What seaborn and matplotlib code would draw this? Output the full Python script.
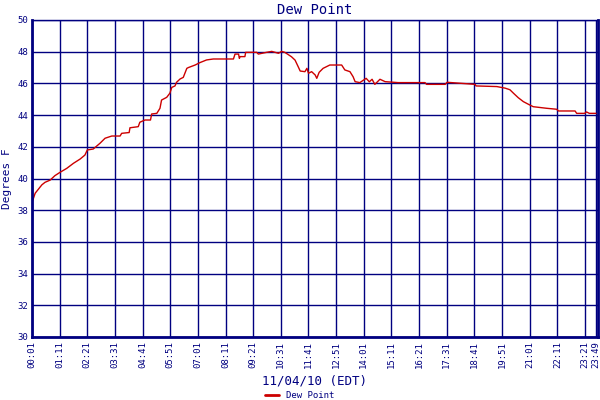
"""
Dew point over one day (11/04/10), recreated with seaborn.
"""

import matplotlib
matplotlib.use('Agg')
import matplotlib.pyplot as plt
from matplotlib.lines import Line2D
import seaborn as sns
import pandas as pd

# minutes after midnight and dew point readings (deg F)
minutes = [1, 4, 9, 26, 34, 47, 59, 72, 89, 106, 123, 135, 141, 156, 173, 186,
           203, 224, 228, 247, 249, 270, 274, 287, 301, 304, 317, 325, 329, 342,
           350, 355, 363, 367, 376, 384, 393, 397, 414, 426, 443, 460, 511, 515,
           524, 526, 528, 540, 542, 570, 574, 595, 608, 625, 633, 641, 649, 658,
           667, 675, 680, 692, 697, 701, 709, 718, 722, 728, 738, 755, 785, 793,
           806, 814, 819, 831, 847, 855, 862, 869, 882, 895, 928, 996, 1000,
           1047, 1052, 1123, 1125, 1178, 1199, 1211, 1220, 1232, 1245, 1258,
           1270, 1304, 1329, 1334, 1376, 1380, 1400, 1405, 1412, 1429]
dew_point = [38.5, 38.7, 39.07, 39.6, 39.76, 39.9, 40.18, 40.39, 40.64, 40.96,
             41.23, 41.48, 41.8, 41.86, 42.22, 42.54, 42.68, 42.68, 42.85, 42.9,
             43.2, 43.27, 43.55, 43.69, 43.69, 44.07, 44.11, 44.43, 44.95,
             45.12, 45.38, 45.75, 45.84, 46.07, 46.28, 46.38, 46.95, 47.0,
             47.16, 47.31, 47.48, 47.54, 47.54, 47.85, 47.85, 47.58, 47.69,
             47.69, 47.96, 47.96, 47.85, 47.96, 48.02, 47.9, 48.02, 47.96,
             47.83, 47.68, 47.47, 47.05, 46.78, 46.74, 46.95, 46.64, 46.74,
             46.53, 46.32, 46.7, 46.95, 47.16, 47.16, 46.85, 46.74, 46.42,
             46.11, 46.05, 46.32, 46.1, 46.26, 45.94, 46.26, 46.11, 46.05,
             46.05, 45.94, 45.94, 46.07, 45.94, 45.84, 45.8, 45.7, 45.6, 45.38,
             45.1, 44.85, 44.68, 44.53, 44.43, 44.37, 44.26, 44.26, 44.11,
             44.11, 44.2, 44.11, 44.11]

tick_minutes = [1, 71, 141, 211, 281, 351, 421, 491, 561, 631, 701, 771, 841,
                911, 981, 1051, 1121, 1191, 1261, 1331, 1401, 1429]
tick_labels = ['00:01', '01:11', '02:21', '03:31', '04:41', '05:51', '07:01',
               '08:11', '09:21', '10:31', '11:41', '12:51', '14:01', '15:11',
               '16:21', '17:31', '18:41', '19:51', '21:01', '22:11', '23:21',
               '23:49']
y_ticks = [30, 32, 34, 36, 38, 40, 42, 44, 46, 48, 50]

navy = '#000080'
red = '#cc0000'

sns.set_style('white')
plt.rcParams['font.family'] = ['DejaVu Sans Mono', 'DejaVu Sans']

df = pd.DataFrame({'minute': minutes, 'Dew Point': dew_point})

fig = plt.figure(figsize=(6, 4), dpi=100)
ax = fig.add_axes([32 / 600, 1 - 337 / 400, 566 / 600, 317 / 400])

sns.lineplot(data=df, x='minute', y='Dew Point', color=red, linewidth=1.0,
             ax=ax, legend=False)

ax.set_xlim(1, 1434)
ax.set_ylim(30, 50)
ax.set_xticks(tick_minutes)
ax.set_xticklabels(tick_labels, rotation=90, fontsize=6.5, color=navy)
ax.set_yticks(y_ticks)
ax.set_yticklabels([str(v) for v in y_ticks], fontsize=6.5, color=navy)
ax.tick_params(length=0, pad=3)
ax.grid(True, color=navy, linewidth=1.0)
ax.set_axisbelow(True)

for side in ['left', 'right', 'bottom']:
    ax.spines[side].set_color(navy)
    ax.spines[side].set_linewidth(2)
ax.spines['top'].set_color(navy)
ax.spines['top'].set_linewidth(1)

ax.set_title('Dew Point', color=navy, fontsize=10, pad=4)
ax.set_ylabel('Degrees F', color=navy, fontsize=8, labelpad=4)
ax.set_xlabel('11/04/10 (EDT)', color=navy, fontsize=9, labelpad=5)

# legend with a thicker sample line than the plotted series
legend_line = Line2D([0], [0], color=red, linewidth=2)
fig.legend([legend_line], ['Dew Point'], loc='lower center',
           bbox_to_anchor=(0.5, -0.02), frameon=False, fontsize=6.5,
           handlelength=1.5, labelcolor=navy)

fig.savefig('out.png', dpi=100, facecolor='white')
